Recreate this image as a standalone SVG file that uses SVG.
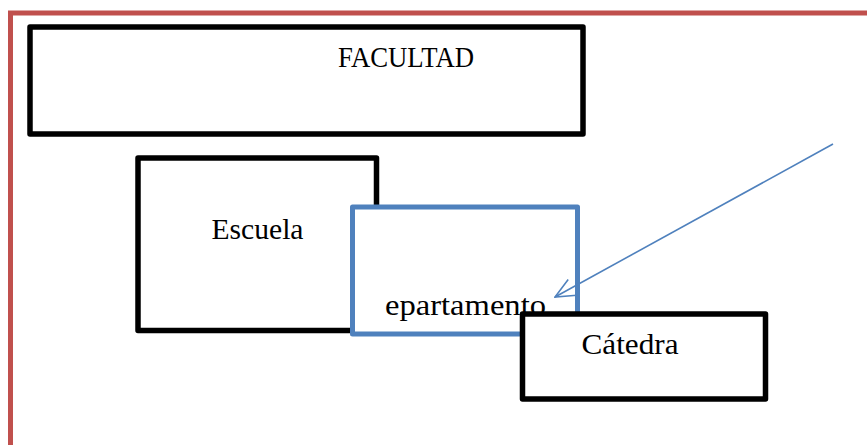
<svg xmlns="http://www.w3.org/2000/svg" width="867" height="445" viewBox="0 0 867 445">
<style>
.box{fill:#fff;stroke:#000;stroke-width:5.5;stroke-linejoin:round}
.blue{fill:#fff;stroke:#4F81BD;stroke-width:5;stroke-linejoin:round}
.t{font-family:"Liberation Serif",serif;font-size:29px;fill:#000}
.conn{stroke:#4F81BD;stroke-width:1.6;fill:none}
</style>
<defs>
<marker id="open" viewBox="0 0 22 22" refX="21" refY="11" markerWidth="22" markerHeight="22" markerUnits="userSpaceOnUse" orient="auto">
<path d="M1,2 L21,11 L1,20" fill="none" stroke="#4F81BD" stroke-width="1.6"/>
</marker>
</defs>
<rect width="867" height="445" fill="#fff"/>
<path d="M10.5,445 V13 H867" fill="none" stroke="#C0504D" stroke-width="5"/>
<g id="facultad">
<rect class="box" x="30" y="27" width="553" height="107"/>
<text class="t" x="338" y="66.5" textLength="136" lengthAdjust="spacingAndGlyphs">FACULTAD</text>
</g>
<g id="escuela">
<rect class="box" x="138" y="158" width="238.5" height="172.5"/>
<text class="t" x="211.5" y="238.5" textLength="92" lengthAdjust="spacingAndGlyphs">Escuela</text>
</g>
<g id="departamento">
<rect class="blue" x="352.5" y="207" width="225" height="127"/>
<text class="t" x="385" y="315" textLength="161" lengthAdjust="spacingAndGlyphs">epartamento</text>
</g>
<g id="catedra">
<rect class="box" x="522.5" y="314" width="243" height="85"/>
<text class="t" x="581.5" y="354" textLength="97" lengthAdjust="spacingAndGlyphs">Cátedra</text>
</g>
<g id="connectors">
<line class="conn" x1="833" y1="144" x2="555" y2="297" marker-end="url(#open)"/>
</g>
</svg>
